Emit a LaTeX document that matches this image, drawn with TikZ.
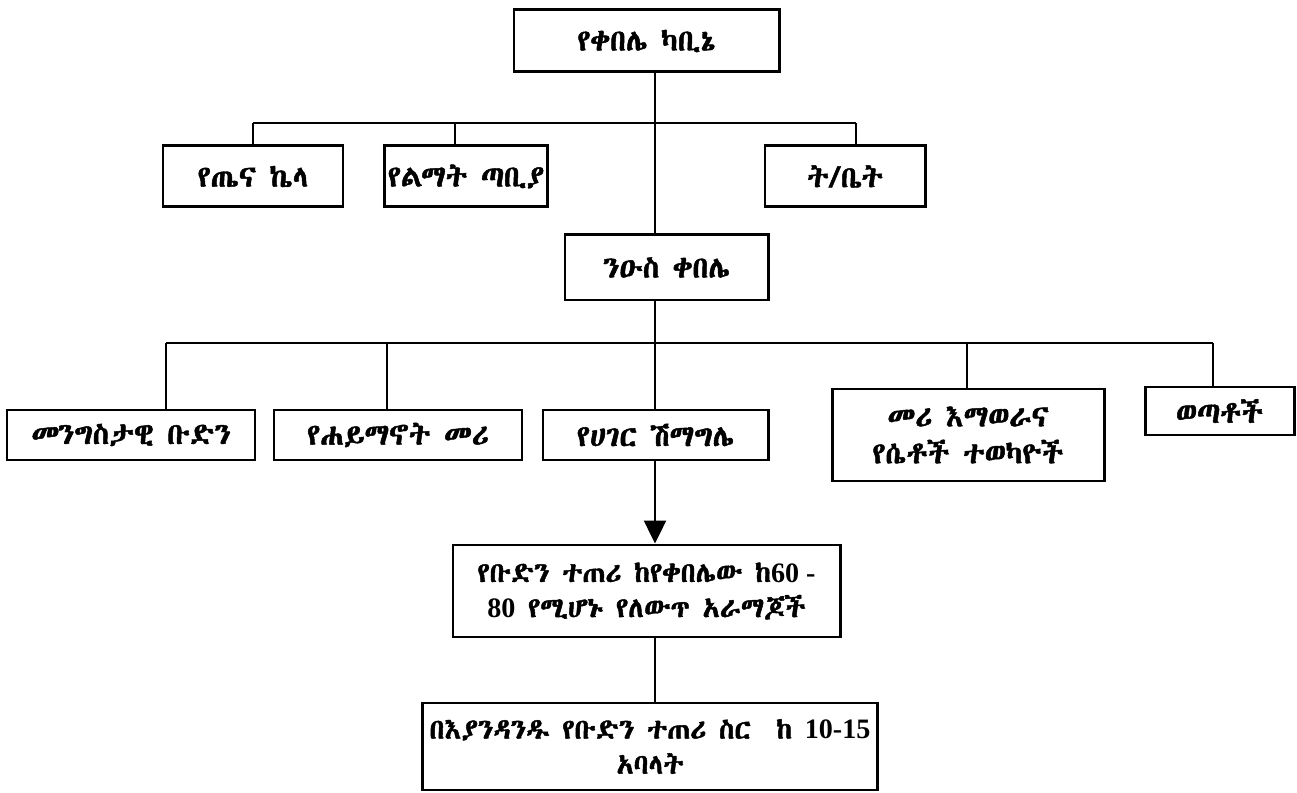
\documentclass[tikz,border=0pt]{standalone}
\usepackage{fontspec}
\setmainfont{Abyssinica SIL}[FakeBold=1.6]
\newfontfamily\latin{Liberation Serif}
\usepackage{tikz}
\usetikzlibrary{arrows.meta, positioning, calc}
\newcommand{\num}[1]{{\latin\bfseries #1}}

\begin{document}
\begin{tikzpicture}[
    unit/.style={
        draw,
        line width=1.7pt,
        inner sep=2pt,
        align=center,
        font=\fontsize{17pt}{21pt}\selectfont
    },
    wide/.style={
        unit,
        font=\fontsize{16pt}{20pt}\selectfont
    },
    conn/.style={
        line width=1.4pt
    },
    arrowc/.style={
        line width=1.4pt,
        -{Triangle[length=0.46cm, width=0.44cm]}
    }
]
\useasboundingbox (0,0) rectangle (25.94,-15.86);

% Kebele cabinet
\node[unit, minimum width=5.3cm, minimum height=1.24cm] (kabine) at (12.93, -0.82) {የቀበሌ ካቢኔ};

% Offices under the cabinet
\node[unit, minimum width=3.6cm, minimum height=1.22cm] (tena) at (5.06, -3.53) {የጤና ኬላ};
\node[unit, minimum width=3.16cm, minimum height=1.22cm] (limat) at (9.32, -3.53) {የልማት ጣቢያ};
\node[unit, minimum width=3.2cm, minimum height=1.22cm] (tbet) at (16.9, -3.53) {ት/ቤት};

% Sub kebele
\node[unit, minimum width=4.06cm, minimum height=1.3cm] (nius) at (13.33, -5.35) {ንዑስ ቀበሌ};

% Members of the sub kebele
\node[unit, minimum width=4.96cm, minimum height=1cm] (mengist) at (2.62, -8.7) {መንግስታዊ ቡድን};
\node[unit, minimum width=4.96cm, minimum height=1cm] (haymanot) at (7.96, -8.7) {የሐይማኖት መሪ};
\node[unit, minimum width=4.5cm, minimum height=1cm] (hager) at (13.11, -8.7) {የሀገር ሽማግሌ};
\node[unit, minimum width=5.44cm, minimum height=1.84cm] (meri) at (19.36, -8.7) {መሪ እማወራና\\ የሴቶች ተወካዮች};
\node[unit, minimum width=2.98cm, minimum height=0.96cm] (wetatoch) at (24.39, -8.22) {ወጣቶች};

% Group leaders and members
\node[wide, minimum width=7.74cm, minimum height=1.84cm] (budin) at (12.93, -11.82) {የቡድን ተጠሪ ከየቀበሌው ከ\num{60 -}\\ \num{80} የሚሆኑ የለውጥ አራማጆች};
\node[wide, minimum width=9.1cm, minimum height=1.74cm] (abalat) at (13.0, -14.93) {በእያንዳንዱ የቡድን ተጠሪ ስር\ \ ከ \num{10-15}\\ አባላት};

% Bus lines
\coordinate (bar1) at (13.1, -2.46);
\coordinate (d1) at (5.06, -2.46);
\coordinate (d2) at (9.1, -2.46);
\coordinate (d3) at (17.12, -2.46);
\coordinate (e1) at (3.32, -6.86);
\coordinate (e2) at (7.74, -6.86);
\coordinate (e4) at (19.34, -6.86);
\coordinate (e5) at (24.26, -6.86);

% Connectors
\draw[conn] (kabine.south -| bar1) -- (nius.north -| bar1);
\draw[conn] (d1) -- (d3);
\foreach \d/\n in {d1/tena, d2/limat, d3/tbet} {
    \draw[conn] (\d) -- (\n.north -| \d);
}

\draw[conn] (nius.south -| bar1) -- (hager.north -| bar1);
\draw[conn] (e1) -- (e5);
\foreach \d/\n in {e1/mengist, e2/haymanot, e4/meri, e5/wetatoch} {
    \draw[conn] (\d) -- (\n.north -| \d);
}

\draw[arrowc] (hager.south -| bar1) -- (budin.north -| bar1);
\draw[conn] (budin.south -| bar1) -- (abalat.north -| bar1);

\end{tikzpicture}
\end{document}
